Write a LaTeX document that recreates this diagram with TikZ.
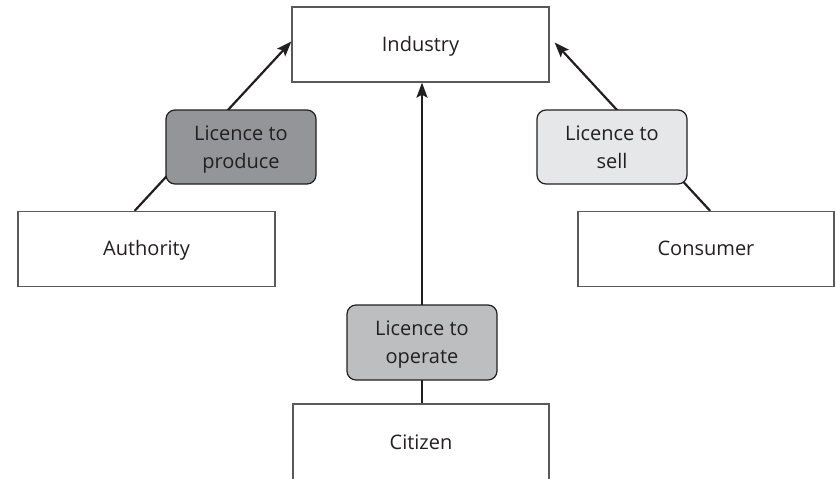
\documentclass[tikz,border=0pt]{standalone}
\usepackage{fontspec}
\setmainfont{Open Sans}
\usetikzlibrary{arrows.meta,calc,backgrounds}
\definecolor{txt}{HTML}{231F20}
\definecolor{edge}{HTML}{58595B}
\definecolor{dark}{HTML}{939598}
\definecolor{mid}{HTML}{BCBEC0}
\definecolor{light}{HTML}{E6E7E8}
\tikzset{
  actor/.style={draw=edge, line width=1.3pt, fill=white, rectangle, minimum width=257pt, minimum height=75pt, inner sep=0pt, font=\fontsize{20}{28}\selectfont, text=txt, text height=13pt, text depth=0pt},
  licence/.style={draw=txt, line width=1.2pt, rectangle, rounded corners=9pt, minimum width=150pt, minimum height=74pt, inner sep=0pt, align=center, font=\fontsize{20}{28}\selectfont, text=txt, text height=42pt, text depth=0pt},
  conn/.style={draw=txt, line width=2.2pt},
  arr/.style={conn, -{Stealth[length=15pt,width=11pt,inset=3pt]}}
}
\begin{document}
\begin{tikzpicture}[x=1pt,y=-1pt]
\useasboundingbox (0,0) rectangle (836,479);
\node[actor] (ind) at (420.5,44.5) {Industry};
\node[actor] (auth) at (146.5,249) {Authority};
\node[actor, minimum width=256pt] (cons) at (706,249) {Consumer};
\node[actor, minimum width=256pt, minimum height=80pt] (cit) at (421,444) {\raisebox{1pt}{Citizen}};
\node[licence, fill=dark] (prod) at (241,147) {Licence to\\produce};
\node[licence, fill=light] (sell) at (612,147) {Licence to\\sell};
\node[licence, fill=mid, minimum height=75pt] (op) at (422,342.5) {Licence to\\operate};
\begin{scope}[on background layer]
  \draw[arr] ($(auth.north west)!0.454!(auth.north east)$) -- ([yshift=3pt]ind.west);
  \draw[arr] ($(cons.north west)!0.516!(cons.north east)$) -- ([xshift=5pt,yshift=2pt]ind.east);
  \draw[arr] (op |- cit.north) -- (op |- ind.south);
\end{scope}
\end{tikzpicture}
\end{document}
